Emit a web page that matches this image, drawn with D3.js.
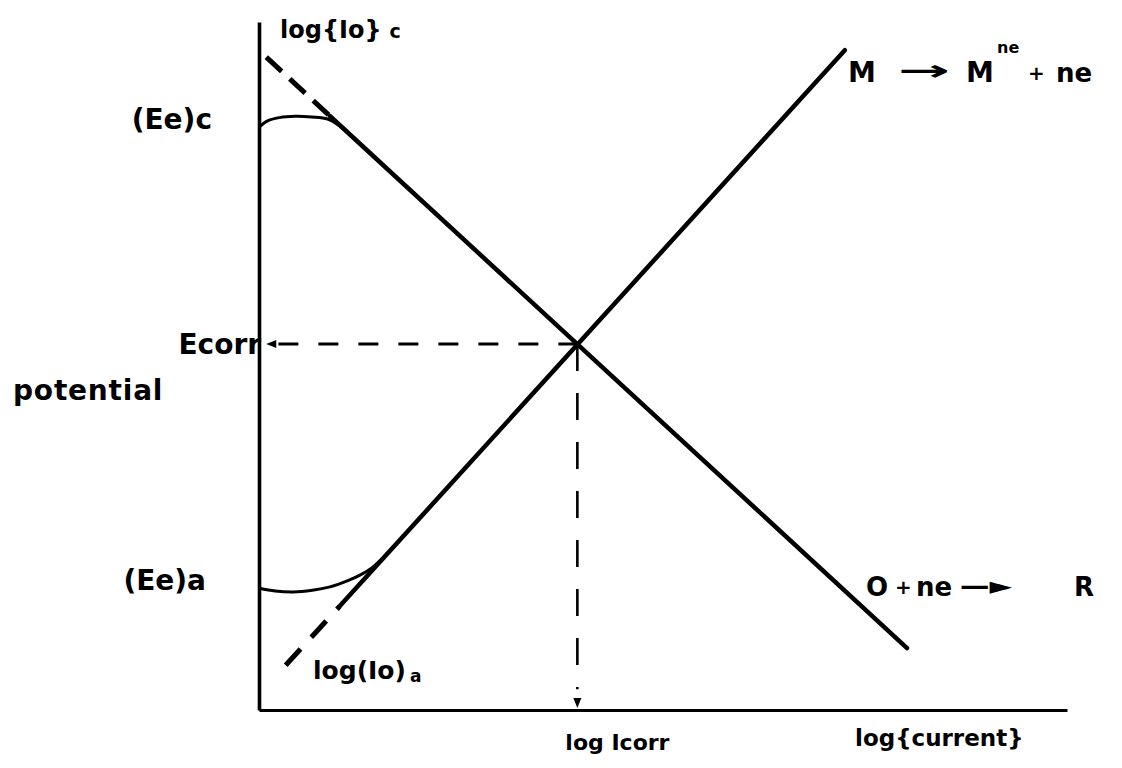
<!DOCTYPE html>
<html>
<head>
<meta charset="utf-8">
<script src="https://cdn.jsdelivr.net/npm/d3@7"></script>
<style>
  html, body { margin: 0; padding: 0; background: #fff; }
  svg { display: block; }
  text { font-family: "DejaVu Sans", sans-serif; font-weight: bold; fill: #000; }
</style>
</head>
<body>
<svg id="chart" width="1122" height="768"></svg>
<script>
// Evans diagram: potential vs log(current), arbitrary units 0..100 on both axes
const currentDomain = [0, 100];
const potentialDomain = [0, 100];

// corrosion point (intersection of the two Tafel lines)
const icorr = 39.4;
const ecorr = 53.2;

// cathodic Tafel line  O + ne -> R  (first segment is the dashed extrapolation)
const cathodicLineX = [0.9, 8.8, 80.2];
const cathodicLineY = [94.9, 86.3, 9.0];

// anodic Tafel line  M -> M^ne + ne  (first segment is the dashed extrapolation)
const anodicLineX = [3.3, 10.0, 72.5];
const anodicLineY = [6.5, 15.1, 95.9];

// measured polarisation curves bending away from the Tafel lines
const cathodicCurveX = [0, 1, 2.5, 4.5, 6.5, 8.5, 10, 11.5];
const cathodicCurveY = [84.7, 85.6, 86.1, 86.3, 86.2, 85.9, 84.9, 83.4];
const anodicCurveX = [0, 2, 4.2, 6.6, 8.8, 11, 12.5, 14, 15.5, 17];
const anodicCurveY = [17.7, 17.3, 17.15, 17.4, 17.9, 18.8, 19.6, 20.7, 22.3, 24.2];

// ends of the Ecorr / Icorr guide lines (arrow tips near the axes)
const ecorrGuideTipX = 0.9;
const icorrGuideTipY = 0.3;

const svg = d3.select("#chart");

const x = d3.scaleLinear().domain(currentDomain).range([259, 1067]);
const y = d3.scaleLinear().domain(potentialDomain).range([710, 22]);

const pts = (xs, ys) => xs.map((v, i) => [v, ys[i]]);
const line = d3.line().x(d => x(d[0])).y(d => y(d[1]));
const smooth = d3.line().x(d => x(d[0])).y(d => y(d[1])).curve(d3.curveCatmullRom.alpha(0.5));

// axes (no ticks, just the frame lines)
svg.append("g")
  .attr("transform", `translate(0,${y(0)})`)
  .call(d3.axisBottom(x).tickValues([]).tickSizeOuter(0))
  .call(g => g.select(".domain").attr("stroke", "#000").attr("stroke-width", 3.2));
svg.append("g")
  .attr("transform", `translate(${x(0)},0)`)
  .call(d3.axisLeft(y).tickValues([]).tickSizeOuter(0))
  .call(g => g.select(".domain").attr("stroke", "#000").attr("stroke-width", 3.6));

const cath = pts(cathodicLineX, cathodicLineY);
const anod = pts(anodicLineX, anodicLineY);

// dashed extrapolations to the exchange current densities
svg.append("path").attr("d", line(cath.slice(0, 2)))
  .attr("fill", "none").attr("stroke", "#000").attr("stroke-width", 5)
  .attr("stroke-dasharray", "21,11");
svg.append("path").attr("d", line(anod.slice(0, 2)))
  .attr("fill", "none").attr("stroke", "#000").attr("stroke-width", 5)
  .attr("stroke-dasharray", "22,16");

// solid Tafel lines
svg.append("path").attr("d", line(cath.slice(1)))
  .attr("fill", "none").attr("stroke", "#000").attr("stroke-width", 4.5)
  .attr("stroke-linecap", "round");
svg.append("path").attr("d", line(anod.slice(1)))
  .attr("fill", "none").attr("stroke", "#000").attr("stroke-width", 4.5)
  .attr("stroke-linecap", "round");

// polarisation curves
svg.append("path").attr("d", smooth(pts(cathodicCurveX, cathodicCurveY)))
  .attr("fill", "none").attr("stroke", "#000").attr("stroke-width", 3);
svg.append("path").attr("d", smooth(pts(anodicCurveX, anodicCurveY)))
  .attr("fill", "none").attr("stroke", "#000").attr("stroke-width", 3);

// Ecorr guide: dashed line to the potential axis with a small arrow
svg.append("path").attr("d", line([[ecorrGuideTipX + 1.5, ecorr], [icorr, ecorr]]))
  .attr("fill", "none").attr("stroke", "#000").attr("stroke-width", 2.8)
  .attr("stroke-dasharray", "20,20");
// Icorr guide: dashed line down to the current axis with a small arrow
svg.append("path").attr("d", line([[icorr, ecorr], [icorr, 3]]))
  .attr("fill", "none").attr("stroke", "#000").attr("stroke-width", 2.6)
  .attr("stroke-dasharray", "27,22");

function arrowHead(tx, ty, dir) {
  const L = 10, W = 4;
  let p;
  if (dir === "left") p = [[tx, ty], [tx + L, ty - W], [tx + L, ty + W]];
  else p = [[tx, ty], [tx - W, ty - L], [tx + W, ty - L]];
  svg.append("path").attr("d", "M" + p.map(q => q.join(",")).join("L") + "Z").attr("fill", "#000");
}
arrowHead(x(ecorrGuideTipX), y(ecorr), "left");
arrowHead(x(icorr), y(icorrGuideTipY), "down");

// labels
function label(txt, px, py, size, anchor) {
  return svg.append("text").attr("x", px).attr("y", py)
    .attr("font-size", size).attr("text-anchor", anchor || "start").text(txt);
}

label("Ecorr", x(0) + 2, y(ecorr) + 10, 28, "end");
label("potential", 13, 400, 28).attr("letter-spacing", 0.8);
label("(Ee)c", 212, y(cathodicCurveY[0]) + 2, 28, "end");
label("(Ee)a", 206, y(anodicCurveY[0]) + 2, 28, "end");
label("log Icorr", x(icorr) - 12, 750, 22);
label("log{current}", 855, 746, 23);

const lc = label("log{Io}", 280, 38, 24);
lc.append("tspan").attr("font-size", 19).attr("dx", 8).text("c");
const la = label("log(Io)", 313, 679, 25);
la.append("tspan").attr("font-size", 17).attr("dx", 4).attr("dy", 3).text("a");

// anodic reaction
label("M", 848, 82, 28);
svg.append("text").attr("x", 898).attr("y", 80).attr("font-size", 28)
  .attr("font-weight", "normal")
  .attr("textLength", 52).attr("lengthAdjust", "spacingAndGlyphs").text("→");
label("M", 966, 82, 28);
label("ne", 997, 53, 16);
label("+", 1028, 80, 20);
label("ne", 1056, 82, 26);

// cathodic reaction
label("O", 866, 596, 26);
label("+", 895, 594, 20);
label("ne", 916, 596, 26);
svg.append("text").attr("x", 960).attr("y", 594).attr("font-size", 24)
  .attr("font-weight", "normal")
  .attr("textLength", 52).attr("lengthAdjust", "spacingAndGlyphs").text("—►");
label("R", 1074, 596, 26);
</script>
</body>
</html>
